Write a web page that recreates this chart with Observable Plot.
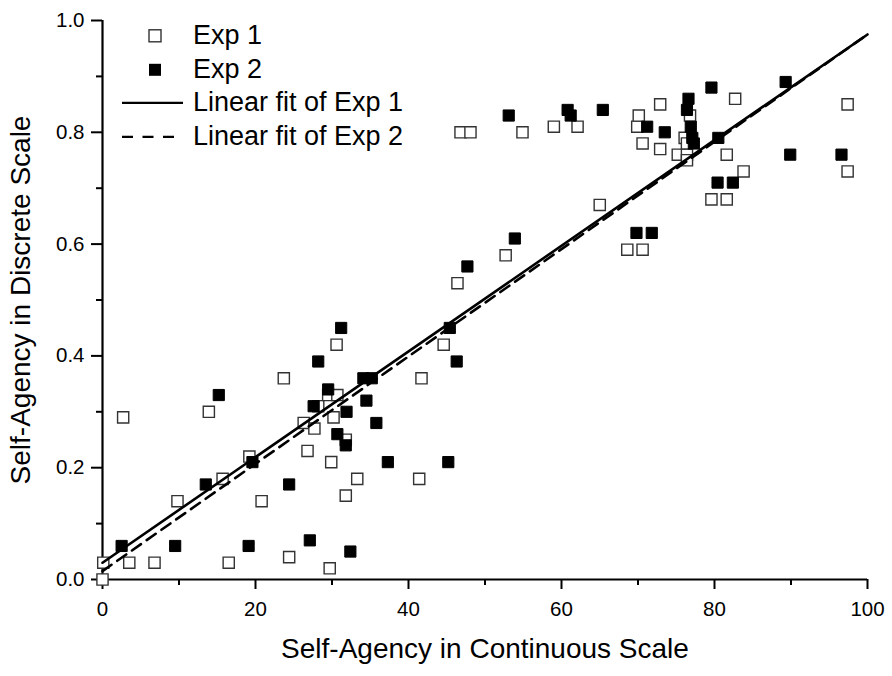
<!DOCTYPE html>
<html>
<head>
<meta charset="utf-8">
<script src="https://cdn.jsdelivr.net/npm/d3@7"></script>
<script src="https://cdn.jsdelivr.net/npm/@observablehq/plot@0.6"></script>
<style>
  html, body { margin: 0; padding: 0; background: #fff; }
  #wrap { position: relative; width: 892px; height: 676px; }
  #legend { position: absolute; left: 118px; top: 19px; font-family: "Liberation Sans", Arial, sans-serif; font-size: 27px; color: #000; }
  .row { display: flex; align-items: center; height: 33.7px; }
  .sym { width: 75px; height: 33.7px; }
  .lab { line-height: 33.7px; white-space: nowrap; }
</style>
</head>
<body>
<div id="wrap"></div>
<script>
// ---- data ----
const exp1X = [0, 0.1, 2.7, 3.5, 6.8, 9.8, 13.9, 15.7, 16.5, 19.2, 20.8, 23.7, 24.4, 26.3, 26.8, 27.7, 28.2, 29.5, 30.7, 29.9, 29.7, 30.2, 30.6, 31.8, 31.8, 33.3, 41.7, 41.4, 44.6, 46.4, 46.8, 48.1, 52.7, 54.9, 59.0, 62.1, 65.0, 68.6, 70.6, 69.9, 70.1, 70.6, 72.9, 72.9, 75.2, 76.1, 76.4, 76.4, 76.8, 76.4, 79.6, 81.6, 81.6, 82.7, 83.8, 97.4, 97.4];
const exp1Y = [0.00, 0.03, 0.29, 0.03, 0.03, 0.14, 0.30, 0.18, 0.03, 0.22, 0.14, 0.36, 0.04, 0.28, 0.23, 0.27, 0.31, 0.33, 0.33, 0.21, 0.02, 0.29, 0.42, 0.25, 0.15, 0.18, 0.36, 0.18, 0.42, 0.53, 0.80, 0.80, 0.58, 0.80, 0.81, 0.81, 0.67, 0.59, 0.59, 0.81, 0.83, 0.78, 0.77, 0.85, 0.76, 0.79, 0.76, 0.75, 0.83, 0.78, 0.68, 0.76, 0.68, 0.86, 0.73, 0.85, 0.73];
const exp2X = [2.5, 9.5, 13.5, 15.2, 19.1, 19.6, 24.4, 27.1, 27.6, 28.2, 29.5, 30.7, 31.2, 31.8, 31.9, 32.4, 34.1, 35.2, 34.5, 35.8, 37.3, 45.2, 45.4, 46.3, 47.7, 53.9, 53.1, 60.8, 61.2, 65.4, 69.8, 71.8, 71.2, 73.5, 76.6, 76.4, 76.9, 77.1, 77.3, 79.6, 80.5, 80.4, 82.4, 89.3, 89.9, 96.6];
const exp2Y = [0.06, 0.06, 0.17, 0.33, 0.06, 0.21, 0.17, 0.07, 0.31, 0.39, 0.34, 0.26, 0.45, 0.24, 0.30, 0.05, 0.36, 0.36, 0.32, 0.28, 0.21, 0.21, 0.45, 0.39, 0.56, 0.61, 0.83, 0.84, 0.83, 0.84, 0.62, 0.62, 0.81, 0.80, 0.86, 0.84, 0.81, 0.79, 0.78, 0.88, 0.79, 0.71, 0.71, 0.89, 0.76, 0.76];
const fitX = [0, 100];
const fit1Y = [0.030, 0.975];
const fit2Y = [0.015, 0.975];
const xMajor = [0, 20, 40, 60, 80, 100];
const xMinor = [10, 30, 50, 70, 90];
const yMajor = [0.0, 0.2, 0.4, 0.6, 0.8, 1.0];
const yMinor = [0.1, 0.3, 0.5, 0.7, 0.9];
const xTitle = "Self-Agency in Continuous Scale";
const yTitle = "Self-Agency in Discrete Scale";
const legendLabels = ["Exp 1", "Exp 2", "Linear fit of Exp 1", "Linear fit of Exp 2"];

const exp1 = exp1X.map((x, i) => ({x, y: exp1Y[i]}));
const exp2 = exp2X.map((x, i) => ({x, y: exp2Y[i]}));
const fit1 = fitX.map((x, i) => ({x, y: fit1Y[i]}));
const fit2 = fitX.map((x, i) => ({x, y: fit2Y[i]}));

const titleFont = "'Liberation Sans', Arial, sans-serif";

const chart = Plot.plot({
  width: 892,
  height: 676,
  marginLeft: 102,
  marginRight: 25,
  marginTop: 20,
  marginBottom: 97,
  x: {domain: [0, 100]},
  y: {domain: [0, 1]},
  style: {fontFamily: "'Liberation Sans', Arial, sans-serif", fontSize: "20px", color: "#000", background: "#fff", overflow: "visible"},
  marks: [
    Plot.axisX(xMinor, {tickSize: 6, strokeWidth: 2, tickFormat: () => "", label: null}),
    Plot.axisX(xMajor, {tickSize: 10, tickPadding: 12, strokeWidth: 2, label: null, fontSize: 20.5}),
    Plot.axisY(yMinor, {tickSize: 6, strokeWidth: 2, tickFormat: () => "", label: null}),
    Plot.axisY(yMajor, {tickSize: 11, tickPadding: 7, strokeWidth: 2, tickFormat: d3.format(".1f"), label: null, fontSize: 20.5}),
    Plot.ruleY([0], {strokeWidth: 2.2}),
    Plot.ruleX([0], {strokeWidth: 2.2}),
    Plot.dot(exp1, {x: "x", y: "y", symbol: "square", r: 6.3, fill: "white", stroke: "#333", strokeWidth: 1.4}),
    Plot.dot(exp2, {x: "x", y: "y", symbol: "square", r: 6.3, fill: "black", stroke: "black", strokeWidth: 1}),
    Plot.line(fit1, {x: "x", y: "y", stroke: "black", strokeWidth: 2.6}),
    Plot.line(fit2, {x: "x", y: "y", stroke: "black", strokeWidth: 2.6, strokeDasharray: "11,7"}),
    Plot.text([xTitle], {frameAnchor: "bottom", dy: 59, lineAnchor: "top", textAnchor: "middle", text: d => d, fontSize: 28, fontFamily: titleFont}),
    Plot.text([yTitle], {frameAnchor: "left", dx: -81, rotate: -90, lineAnchor: "middle", textAnchor: "middle", text: d => d, fontSize: 28, fontFamily: titleFont})
  ]
});

const wrap = document.getElementById("wrap");
wrap.appendChild(chart);

// legend overlay
const legend = document.createElement("div");
legend.id = "legend";
const symbols = [
  `<rect x="31" y="10.8" width="12" height="12" fill="white" stroke="#333" stroke-width="1.4"/>`,
  `<rect x="31" y="10.8" width="12" height="12" fill="black"/>`,
  `<line x1="4" x2="65" y1="16.85" y2="16.85" stroke="black" stroke-width="2.4"/>`,
  `<line x1="4" x2="65" y1="16.85" y2="16.85" stroke="black" stroke-width="2.4" stroke-dasharray="11,9.5"/>`
];
legendLabels.forEach((lab, i) => {
  const row = document.createElement("div");
  row.className = "row";
  row.innerHTML = `<svg class="sym" width="75" height="33.7">${symbols[i]}</svg><span class="lab">${lab}</span>`;
  legend.appendChild(row);
});
wrap.appendChild(legend);
</script>
</body>
</html>
